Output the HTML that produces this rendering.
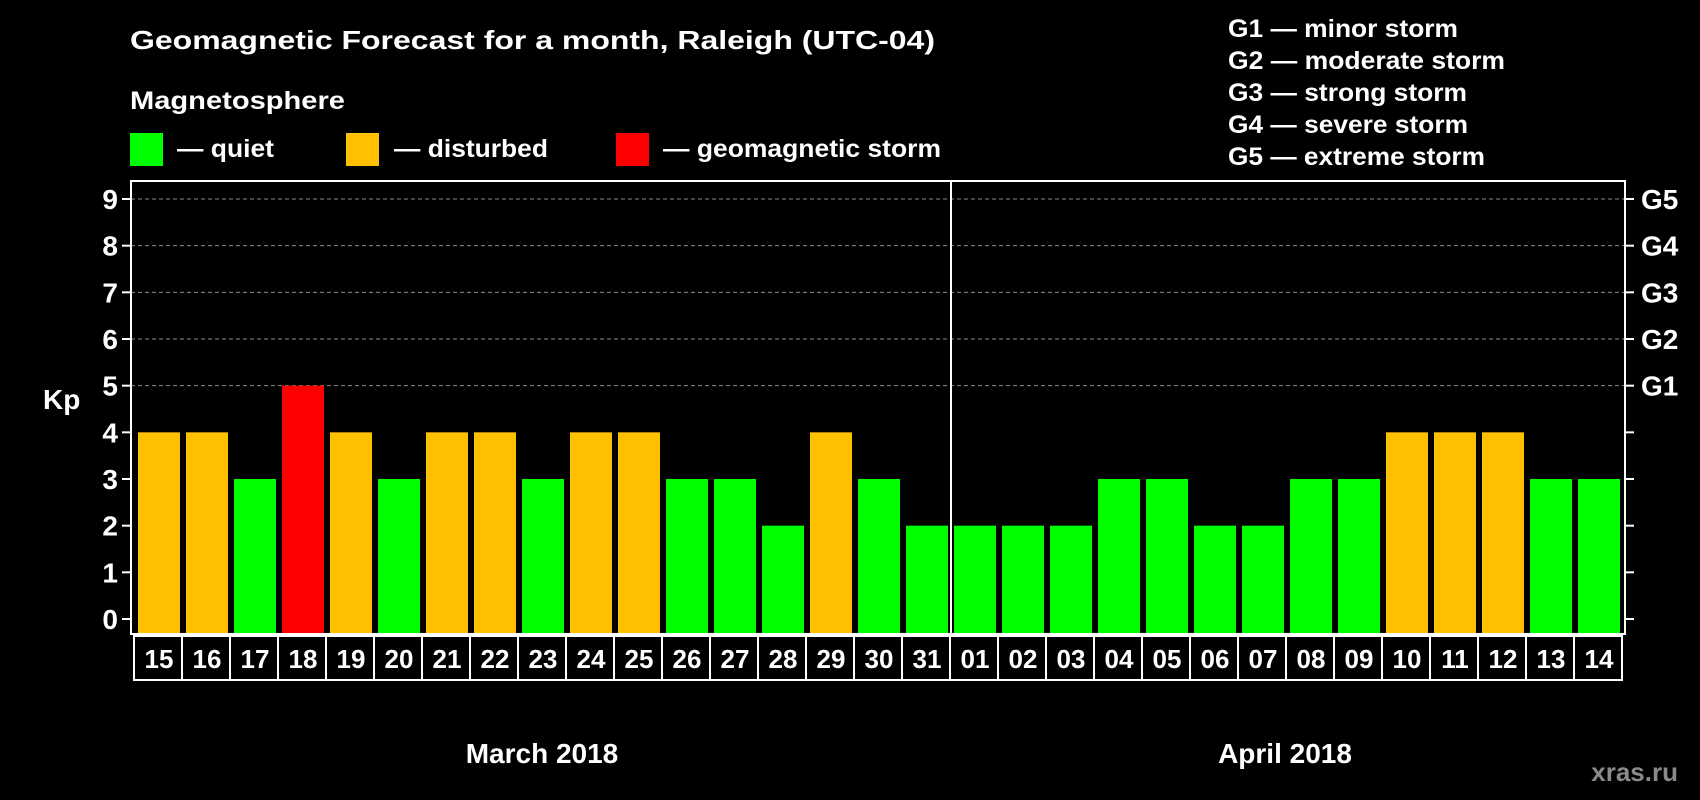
<!DOCTYPE html>
<html><head><meta charset="utf-8"><style>
html,body{margin:0;padding:0;background:#000;}
svg{display:block;font-family:"Liberation Sans",Arial,sans-serif;font-weight:bold;}
</style></head><body>
<svg id="chart" width="1700" height="800" viewBox="0 0 1700 800" xmlns="http://www.w3.org/2000/svg">
<rect width="1700" height="800" fill="#000"/>
<text x="130" y="49" fill="#fff" font-size="26" textLength="805" lengthAdjust="spacingAndGlyphs">Geomagnetic Forecast for a month, Raleigh (UTC-04)</text>
<text x="130" y="109" fill="#fff" font-size="25" textLength="215" lengthAdjust="spacingAndGlyphs">Magnetosphere</text>
<g>
<rect x="130" y="133" width="33" height="33" fill="#00ff00"/>
<text x="177" y="157" fill="#fff" font-size="25" textLength="97" lengthAdjust="spacingAndGlyphs">— quiet</text></g>
<g>
<rect x="346" y="133" width="33" height="33" fill="#ffc000"/>
<text x="394" y="157" fill="#fff" font-size="25" textLength="154" lengthAdjust="spacingAndGlyphs">— disturbed</text></g>
<g>
<rect x="616" y="133" width="33" height="33" fill="#ff0000"/>
<text x="663" y="157" fill="#fff" font-size="25" textLength="278" lengthAdjust="spacingAndGlyphs">— geomagnetic storm</text></g>
<g fill="#fff" font-size="25">
<text x="1228" y="37" textLength="230" lengthAdjust="spacingAndGlyphs">G1 — minor storm</text>
<text x="1228" y="69" textLength="277" lengthAdjust="spacingAndGlyphs">G2 — moderate storm</text>
<text x="1228" y="101" textLength="239" lengthAdjust="spacingAndGlyphs">G3 — strong storm</text>
<text x="1228" y="133" textLength="240" lengthAdjust="spacingAndGlyphs">G4 — severe storm</text>
<text x="1228" y="165" textLength="257" lengthAdjust="spacingAndGlyphs">G5 — extreme storm</text>
</g>
<text x="43" y="409" fill="#fff" font-size="28">Kp</text>
<g id="grid"></g><g id="bars"></g><g id="axes"></g><g id="xlabels"></g>
<text x="542" y="763" fill="#fff" font-size="28" text-anchor="middle">March 2018</text>
<text x="1285" y="763" fill="#fff" font-size="28" text-anchor="middle">April 2018</text>
<text x="1678" y="781" fill="#8a8a8a" font-size="26" text-anchor="end">xras.ru</text>
</svg>
<script>
const days = ["15","16","17","18","19","20","21","22","23","24","25","26","27","28","29","30","31","01","02","03","04","05","06","07","08","09","10","11","12","13","14"];
const kpValues = [4,4,3,5,4,3,4,4,3,4,4,3,3,2,4,3,2,2,2,2,3,3,2,2,3,3,4,4,4,3,3];
const yTicks = [0,1,2,3,4,5,6,7,8,9];
const gLabels = ["","","","","","G1","G2","G3","G4","G5"];
const NS = "http://www.w3.org/2000/svg";
const L = 131, R = 1625, T = 181, B = 634, Y0 = 619, Y9 = 199;
const pitch = 48, barW = 42, firstX = 138;
function y(v){ return Y0 - (Y0 - Y9) * v / 9; }
function x(i){ return firstX + i * pitch; }
function mk(tag, attrs, parent){ const e = document.createElementNS(NS, tag); for (const k in attrs) e.setAttribute(k, attrs[k]); parent.appendChild(e); return e; }
const grid = document.getElementById('grid'), bars = document.getElementById('bars'), axes = document.getElementById('axes'), xl = document.getElementById('xlabels');
yTicks.forEach((t, i) => {
  if (t >= 5) {
    const g = mk('line', {x1: L, x2: R, y1: y(t), y2: y(t), stroke: '#8c8c8c', 'stroke-width': 1, 'stroke-dasharray': '4,3'}, grid);
    
    
  }
  const tl = mk('line', {x1: 122, x2: L, y1: y(t), y2: y(t), stroke: '#fff', 'stroke-width': 2}, axes);
  
  
  const tr = mk('line', {x1: R, x2: 1634, y1: y(t), y2: y(t), stroke: '#fff', 'stroke-width': 2}, axes);
  
  
  const lab = mk('text', {x: 118, y: y(t) + 10, fill: '#fff', 'font-size': 28, 'text-anchor': 'end'}, axes);
  lab.textContent = t;
  
  
  if (gLabels[i]) {
    const gl = mk('text', {x: 1641, y: y(t) + 10, fill: '#fff', 'font-size': 28}, axes);
    gl.textContent = gLabels[i];
    
    
  }
});
kpValues.forEach((v, i) => {
  const col = v >= 5 ? '#ff0000' : (v >= 4 ? '#ffc000' : '#00ff00');
  const b = mk('rect', {x: x(i), y: y(v), width: barW, height: y(0) - y(v) + 14, fill: col}, bars);
  
  
  const c = mk('rect', {x: x(i) - 4, y: 636, width: pitch, height: 44, fill: 'none', stroke: '#fff', 'stroke-width': 2}, xl);
  
  
  const t = mk('text', {x: x(i) + barW / 2, y: 668, fill: '#fff', 'font-size': 26, 'text-anchor': 'middle'}, xl);
  t.textContent = days[i];
  
  
});
const frame = mk('rect', {x: L, y: T, width: R - L, height: B - T, fill: 'none', stroke: '#fff', 'stroke-width': 2}, axes);


const divX = x(17) - 3;
const dv = mk('line', {x1: divX, x2: divX, y1: T, y2: B, stroke: '#fff', 'stroke-width': 2}, axes);


</script>
</body></html>
